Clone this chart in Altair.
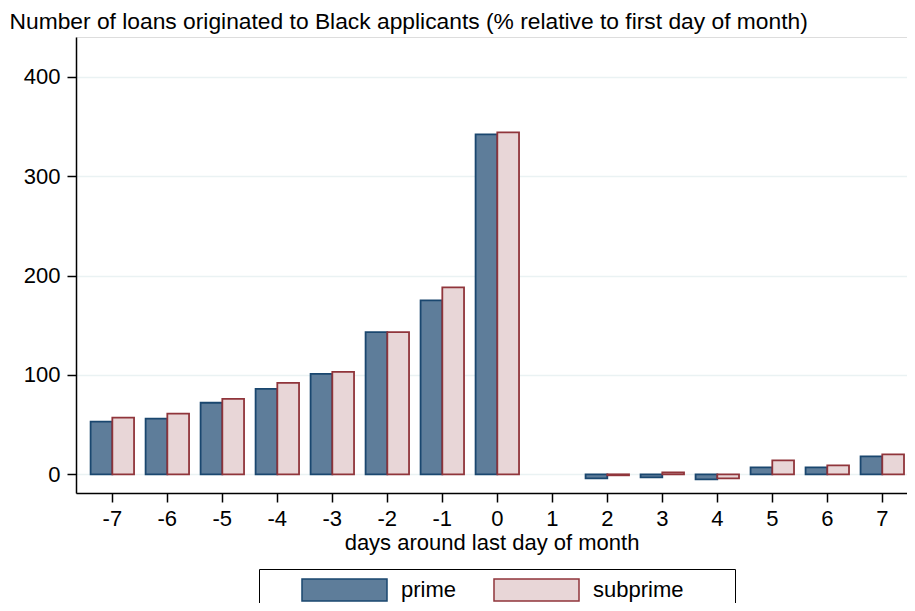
import altair as alt
import pandas as pd

days = ["-7", "-6", "-5", "-4", "-3", "-2", "-1", "0", "1", "2", "3", "4", "5", "6", "7"]
series = ["prime", "subprime"]
prime = [53, 56, 72, 86, 101, 143, 175, 342, None, -4, -3, -5, 7, 7, 18]
subprime = [57, 61, 76, 92, 103, 143, 188, 344, None, -1, 2, -4, 14, 9, 20]
y_ticks = [0, 100, 200, 300, 400]
fill_colors = ["#5E7D9A", "#E8D6D7"]
stroke_colors = ["#1A476F", "#90353B"]

rows = []
for d, p, s in zip(days, prime, subprime):
    if p is not None:
        rows.append({"day": d, "series": "prime", "value": p})
    if s is not None:
        rows.append({"day": d, "series": "subprime", "value": s})
df = pd.DataFrame(rows)

FONT = "Liberation Sans"
rect_path = "M-3.864,-1L3.864,-1L3.864,1L-3.864,1Z"

legend = alt.Legend(
    orient="none", legendX=183, legendY=532, direction="horizontal", columns=2,
    padding=9, strokeColor="black", fillColor="white",
    symbolType=rect_path, symbolSize=484, symbolStrokeWidth=1.5,
    symbolOffset=64.5, labelOffset=44.5, columnPadding=3,
    labelFontSize=22, labelColor="black", labelFont=FONT,
    title=" ", titleOrient="right", titlePadding=43, titleFontSize=22, titleFont=FONT,
)

chart = alt.Chart(df).mark_bar(strokeWidth=1.8).encode(
    x=alt.X(
        "day:O",
        scale=alt.Scale(domain=days, paddingInner=0.21, paddingOuter=0.16, align=0.83),
        axis=alt.Axis(
            title="days around last day of month", labelAngle=0, labelFontSize=22,
            labelColor="black", labelPadding=6, tickSize=9, tickColor="black", tickWidth=1.5,
            domainColor="black", domainWidth=1.5, titleFontSize=22, titleFontWeight="normal",
            titleColor="black", titlePadding=3, labelFont=FONT, titleFont=FONT,
        ),
    ),
    xOffset=alt.XOffset("series:N", scale=alt.Scale(domain=series, paddingInner=0, paddingOuter=0)),
    y=alt.Y(
        "value:Q",
        scale=alt.Scale(domain=[-18.8, 440], nice=False, zero=False),
        axis=alt.Axis(
            values=y_ticks, format="d",
            title="Number of loans originated to Black applicants (% relative to first day of month)",
            titleAngle=0, titleAlign="left", titleBaseline="alphabetic", titleX=-67, titleY=-9,
            titleFontSize=22.8, titleFontWeight="normal", titleColor="black", titleFont=FONT,
            grid=True, gridColor="#EAF2F3", gridWidth=1.5,
            domainColor="black", domainWidth=1.5, tickColor="black", tickWidth=1.5, tickSize=9,
            labelFontSize=22, labelPadding=7, labelColor="black", labelFont=FONT,
        ),
    ),
    fill=alt.Fill("series:N", scale=alt.Scale(domain=series, range=fill_colors), legend=legend),
    stroke=alt.Stroke("series:N", scale=alt.Scale(domain=series, range=stroke_colors), legend=legend),
).properties(
    width=831, height=456,
    autosize=alt.AutoSizeParams(type="none"),
    padding={"left": 68, "top": 29, "right": 0, "bottom": 110},
).configure_view(stroke=None).configure(font=FONT)

chart.save("out.html", embed_options={"renderer": "svg", "actions": False})
